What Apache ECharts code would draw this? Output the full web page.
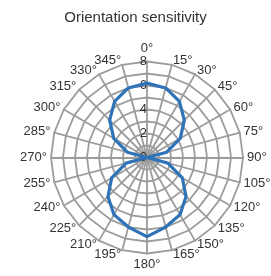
<!DOCTYPE html>
<html>
<head>
<meta charset="utf-8">
<style>
  html, body { margin: 0; padding: 0; background: #fff; }
  #chart { width: 271px; height: 276px; }
</style>
<script src="https://cdn.jsdelivr.net/npm/echarts@6/dist/echarts.min.js"></script>
</head>
<body>
<div id="chart"></div>
<script>
// angles clockwise from top, every 15 degrees
var angleLabels = ['0°', '15°', '30°', '45°', '60°', '75°', '90°', '105°', '120°', '135°', '150°', '165°',
                   '180°', '195°', '210°', '225°', '240°', '255°', '270°', '285°', '300°', '315°', '330°', '345°'];
// sensitivity read at each angle
var sensitivity = [6.2, 6.0, 5.4, 4.4, 3.2, 1.7, 0, 1.8, 3.4, 4.6, 5.5, 6.0,
                   6.6, 6.0, 5.5, 4.6, 3.4, 1.8, 0, 1.7, 3.2, 4.4, 5.4, 6.0];
var radialTicks = [0, 2, 4, 6, 8];
var radialMax = 8;

// radar runs counter-clockwise from startAngle; list 345°, 330° ... 0° so the
// dial reads clockwise and the 0° axis (the labelled one) is drawn last, on top
var n = angleLabels.length;
var order = [];
for (var i = 0; i < n; i++) {
  order.push((n - 1 - i) % n);
}
var indicators = order.map(function (k) {
  var ind = { name: angleLabels[k], min: 0, max: radialMax };
  if (k === 0) {
    ind.axisLabel = {
      show: true,
      formatter: function (v) {
        return radialTicks.indexOf(v) >= 0 ? String(v) : '';
      }
    };
  }
  return ind;
});
var values = order.map(function (k) { return sensitivity[k]; });

var chart = echarts.init(document.getElementById('chart'));
var option = {
  backgroundColor: '#fff',
  animation: false,
  title: {
    text: 'Orientation sensitivity',
    left: 'center',
    top: 5,
    textStyle: {
      fontSize: 15,
      fontWeight: 'normal',
      color: '#333',
      fontFamily: 'Liberation Sans, Arial, sans-serif'
    }
  },
  radar: {
    center: [147, 157.5],
    radius: 96,
    startAngle: 105,
    shape: 'polygon',
    splitNumber: 8,
    indicator: indicators,
    axisName: {
      color: '#333',
      fontSize: 13,
      fontFamily: 'Liberation Sans, Arial, sans-serif'
    },
    nameGap: 4,
    axisLine: { show: true, lineStyle: { color: '#9c9c9c', width: 1.8 } },
    splitLine: { show: true, lineStyle: { color: '#9c9c9c', width: 1.8 } },
    splitArea: { show: false },
    axisTick: { show: false },
    axisLabel: {
      show: false,
      showMinLabel: true,
      showMaxLabel: true,
      hideOverlap: false,
      align: 'right',
      verticalAlign: 'middle',
      margin: 0,
      color: '#333',
      fontSize: 13,
      fontFamily: 'Liberation Sans, Arial, sans-serif'
    }
  },
  series: [{
    type: 'radar',
    symbol: 'none',
    z: 1,
    lineStyle: { color: '#2e72b8', width: 3.2 },
    data: [{ value: values, name: 'Orientation sensitivity' }]
  }]
};
chart.setOption(option);
</script>
</body>
</html>
